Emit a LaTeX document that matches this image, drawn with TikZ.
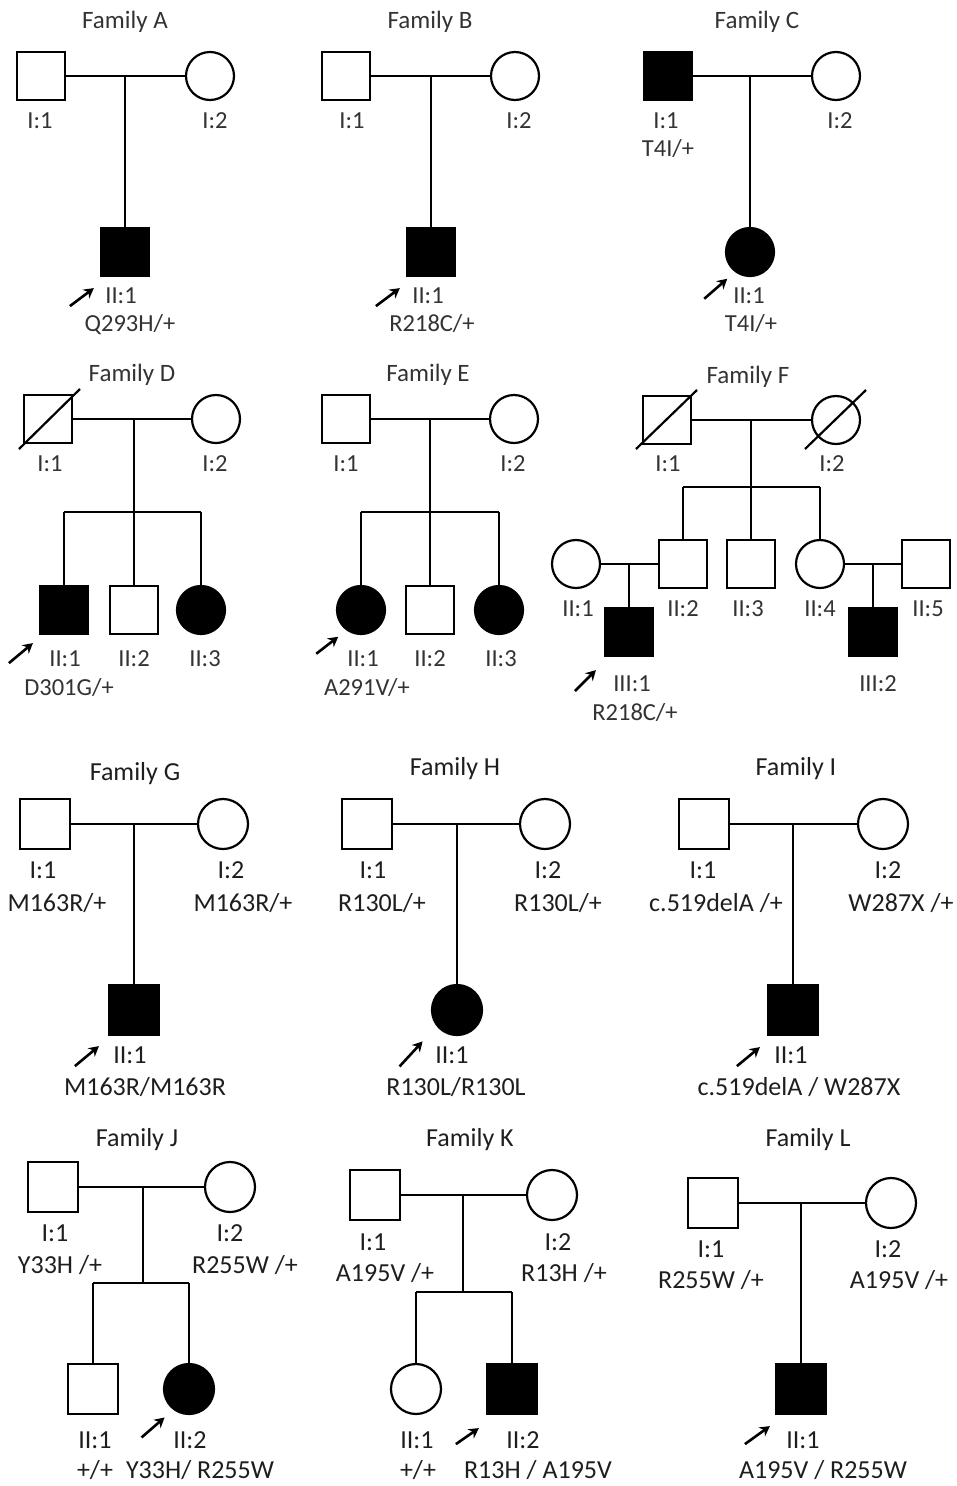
\documentclass[tikz,border=0pt]{standalone}
\usepackage{fontspec}
\setmainfont{Carlito}
\usetikzlibrary{arrows.meta,positioning}
\definecolor{ink}{HTML}{000000}
\definecolor{txtA}{HTML}{333333}
\definecolor{txtB}{HTML}{1E1E1E}
\tikzset{
  malebox/.style={
    rectangle, draw=ink, line width=2.2pt, fill=white,
    minimum size=#1, inner sep=0pt
  },
  malebox/.default=48pt,
  femalebox/.style={
    circle, draw=ink, line width=2.2pt, fill=white,
    minimum size=#1, inner sep=0pt
  },
  femalebox/.default=48pt,
  affected/.style={fill=ink},
  kinline/.style={line width=2.2pt, draw=ink},
  probarrow/.style={
    -{Stealth[length=10pt, width=11pt]}, line width=2.6pt, color=ink
  },
  labelnode/.style={
    font=\fontsize{24.5}{27}\selectfont, text=txtA,
    inner sep=0pt, text height=16pt, text depth=0pt
  },
  titlenode/.style={
    labelnode, font=\fontsize{25}{27}\selectfont
  },
  biglabel/.style={
    font=\fontsize{26}{29}\selectfont, text=txtB,
    inner sep=0pt, text height=17pt, text depth=0pt
  },
}

\begin{document}
\begin{tikzpicture}[x=1pt, y=-1pt]
  \useasboundingbox (0,0) rectangle (956,1486);
  % Family A
  \node[titlenode] (aT) at (125,20) {Family A};
  \node[malebox] (aI1) at (41,76) {};
  \node[femalebox] (aI2) at (210,76) {};
  \coordinate (am) at (125,76);
  \node[malebox, affected] (aII1) at (125,252) {};
  \draw[kinline] (aI1) -- (aI2);
  \draw[kinline] (am) -- (aII1);
  \node[labelnode] (aI1l) at (40,120) {I:1};
  \node[labelnode] (aI2l) at (215,120) {I:2};
  \node[labelnode] (aII1l) at (121,295) {II:1};
  \node[labelnode] (aII1g) at (130,323) {Q293H/+};
  \draw[probarrow] ([shift={(-30,29)}]aII1.south west) -- ++(24,-18);
  % Family B
  \node[titlenode] (bT) at (430,20) {Family B};
  \node[malebox] (bI1) at (346,76) {};
  \node[femalebox] (bI2) at (515,76) {};
  \coordinate (bm) at (431,76);
  \node[malebox, affected] (bII1) at (431,252) {};
  \draw[kinline] (bI1) -- (bI2);
  \draw[kinline] (bm) -- (bII1);
  \node[labelnode] (bI1l) at (352,120) {I:1};
  \node[labelnode] (bI2l) at (519,120) {I:2};
  \node[labelnode] (bII1l) at (428,295) {II:1};
  \node[labelnode] (bII1g) at (432,323) {R218C/+};
  \draw[probarrow] ([shift={(-30,29)}]bII1.south west) -- ++(24,-18);
  % Family C
  \node[titlenode] (cT) at (757,20) {Family C};
  \node[malebox, affected] (cI1) at (668,76) {};
  \node[femalebox] (cI2) at (836,76) {};
  \coordinate (cm) at (750,76);
  \node[femalebox, affected] (cII1) at (750,252) {};
  \draw[kinline] (cI1) -- (cI2);
  \draw[kinline] (cm) -- (cII1);
  \node[labelnode] (cI1l) at (666,120) {I:1};
  \node[labelnode] (cI1g) at (668,148) {T4I/+};
  \node[labelnode] (cI2l) at (840,120) {I:2};
  \node[labelnode] (cII1l) at (749,295) {II:1};
  \node[labelnode] (cII1g) at (751,323) {T4I/+};
  \draw[probarrow] ([shift={(-28,29)}]cII1.south west) -- ++(23,-20);
  % Family D
  \node[titlenode] (dT) at (132,373) {Family D};
  \node[malebox] (dI1) at (48,419) {};
  \node[femalebox] (dI2) at (216,419) {};
  \coordinate (dm) at (134,419);
  \coordinate (ds) at (134,512);
  \node[malebox, affected] (dII1) at (64,610) {};
  \node[malebox] (dII2) at (134,610) {};
  \node[femalebox, affected] (dII3) at (201,610) {};
  \draw[kinline] (dI1) -- (dI2);
  \draw[kinline] (dm) -- (ds);
  \draw[kinline] (dII1 |- ds) -- (dII3 |- ds);
  \draw[kinline] (dII1 |- ds) -- (dII1);
  \draw[kinline] (ds) -- (dII2);
  \draw[kinline] (dII3 |- ds) -- (dII3);
  \draw[kinline] ([shift={(-29,30)}]dI1.center) -- ([shift={(32,-30)}]dI1.center);
  \node[labelnode] (dI1l) at (50,463) {I:1};
  \node[labelnode] (dI2l) at (215,463) {I:2};
  \node[labelnode] (dII1l) at (65,658) {II:1};
  \node[labelnode] (dII2l) at (134,658) {II:2};
  \node[labelnode] (dII3l) at (205,658) {II:3};
  \node[labelnode] (dII1g) at (69,687) {D301G/+};
  \draw[probarrow] ([shift={(-30,28)}]dII1.south west) -- ++(24,-20);
  % Family E
  \node[titlenode] (eT) at (428,373) {Family E};
  \node[malebox] (eI1) at (346,419) {};
  \node[femalebox] (eI2) at (514,419) {};
  \coordinate (em) at (430,419);
  \coordinate (es) at (430,512);
  \node[femalebox, affected] (eII1) at (361,610) {};
  \node[malebox] (eII2) at (430,610) {};
  \node[femalebox, affected] (eII3) at (499,610) {};
  \draw[kinline] (eI1) -- (eI2);
  \draw[kinline] (em) -- (es);
  \draw[kinline] (eII1 |- es) -- (eII3 |- es);
  \draw[kinline] (eII1 |- es) -- (eII1);
  \draw[kinline] (es) -- (eII2);
  \draw[kinline] (eII3 |- es) -- (eII3);
  \node[labelnode] (eI1l) at (346,463) {I:1};
  \node[labelnode] (eI2l) at (513,463) {I:2};
  \node[labelnode] (eII1l) at (363,658) {II:1};
  \node[labelnode] (eII2l) at (430,658) {II:2};
  \node[labelnode] (eII3l) at (501,658) {II:3};
  \node[labelnode] (eII1g) at (367,687) {A291V/+};
  \draw[probarrow] ([shift={(-27,26)}]eII1.south west) -- ++(22,-17);
  % Family F
  \node[titlenode] (fT) at (748,375) {Family F};
  \node[malebox] (fI1) at (667,420) {};
  \node[femalebox] (fI2) at (836,420) {};
  \coordinate (fm) at (751,420);
  \coordinate (fs) at (751,487);
  \node[femalebox] (fII1) at (576,564) {};
  \node[malebox] (fII2) at (683,564) {};
  \node[malebox] (fII3) at (751,564) {};
  \node[femalebox] (fII4) at (820,564) {};
  \node[malebox] (fII5) at (926,564) {};
  \coordinate (fm2) at (629,564);
  \coordinate (fm3) at (873,564);
  \node[malebox, affected] (fIII1) at (629,632) {};
  \node[malebox, affected] (fIII2) at (873,632) {};
  \draw[kinline] (fI1) -- (fI2);
  \draw[kinline] (fm) -- (fs);
  \draw[kinline] (fII2 |- fs) -- (fII4 |- fs);
  \draw[kinline] (fII2 |- fs) -- (fII2);
  \draw[kinline] (fs) -- (fII3);
  \draw[kinline] (fII4 |- fs) -- (fII4);
  \draw[kinline] (fII1) -- (fII2);
  \draw[kinline] (fII4) -- (fII5);
  \draw[kinline] (fm2) -- (fIII1);
  \draw[kinline] (fm3) -- (fIII2);
  \draw[kinline] ([shift={(-31,29)}]fI1.center) -- ([shift={(30,-30)}]fI1.center);
  \draw[kinline] ([shift={(-31,29)}]fI2.center) -- ([shift={(30,-30)}]fI2.center);
  \node[labelnode] (fI1l) at (668,463) {I:1};
  \node[labelnode] (fI2l) at (832,463) {I:2};
  \node[labelnode] (fII1l) at (578,608) {II:1};
  \node[labelnode] (fII2l) at (683,608) {II:2};
  \node[labelnode] (fII3l) at (748,608) {II:3};
  \node[labelnode] (fII4l) at (820,608) {II:4};
  \node[labelnode] (fII5l) at (928,608) {II:5};
  \node[labelnode] (fIII1l) at (632,683) {III:1};
  \node[labelnode] (fIII2l) at (878,683) {III:2};
  \node[labelnode] (fIII1g) at (635,712) {R218C/+};
  \draw[probarrow] ([shift={(-29,34)}]fIII1.south west) -- ++(21,-21);
  % Family G
  \node[biglabel] (gT) at (135,772) {Family G};
  \node[malebox=50pt] (gI1) at (45,824) {};
  \node[femalebox=50pt] (gI2) at (223,824) {};
  \coordinate (gm) at (134,824);
  \node[malebox=50pt, affected] (gII1) at (134,1010) {};
  \draw[kinline] (gI1) -- (gI2);
  \draw[kinline] (gm) -- (gII1);
  \node[biglabel] (gI1l) at (43,870) {I:1};
  \node[biglabel] (gI1g) at (57,903) {M163R/+};
  \node[biglabel] (gI2l) at (231,870) {I:2};
  \node[biglabel] (gI2g) at (243,903) {M163R/+};
  \node[biglabel] (gII1l) at (130,1055) {II:1};
  \node[biglabel] (gII1g) at (145,1087) {M163R/M163R};
  \draw[probarrow] ([shift={(-33,30)}]gII1.south west) -- ++(24,-20);
  % Family H
  \node[biglabel] (hT) at (455,767) {Family H};
  \node[malebox=50pt] (hI1) at (367,824) {};
  \node[femalebox=50pt] (hI2) at (545,824) {};
  \coordinate (hm) at (457,824);
  \node[femalebox=50pt, affected] (hII1) at (457,1010) {};
  \draw[kinline] (hI1) -- (hI2);
  \draw[kinline] (hm) -- (hII1);
  \node[biglabel] (hI1l) at (373,870) {I:1};
  \node[biglabel] (hI1g) at (382,903) {R130L/+};
  \node[biglabel] (hI2l) at (548,870) {I:2};
  \node[biglabel] (hI2g) at (558,903) {R130L/+};
  \node[biglabel] (hII1l) at (452,1055) {II:1};
  \node[biglabel] (hII1g) at (456,1087) {R130L/R130L};
  \draw[probarrow] ([shift={(-39,38)}]hII1.south west) -- ++(23,-25);
  % Family I
  \node[biglabel] (iT) at (796,767) {Family I};
  \node[malebox=50pt] (iI1) at (704,824) {};
  \node[femalebox=50pt] (iI2) at (883,824) {};
  \coordinate (im) at (793,824);
  \node[malebox=50pt, affected] (iII1) at (793,1010) {};
  \draw[kinline] (iI1) -- (iI2);
  \draw[kinline] (im) -- (iII1);
  \node[biglabel] (iI1l) at (703,870) {I:1};
  \node[biglabel] (iI1g) at (716,903) {c.519delA /+};
  \node[biglabel] (iI2l) at (888,870) {I:2};
  \node[biglabel] (iI2g) at (901,903) {W287X /+};
  \node[biglabel] (iII1l) at (791,1055) {II:1};
  \node[biglabel] (iII1g) at (799,1087) {c.519delA / W287X};
  \draw[probarrow] ([shift={(-30,30)}]iII1.south west) -- ++(23,-19);
  % Family J
  \node[biglabel] (jT) at (137,1138) {Family J};
  \node[malebox=50pt] (jI1) at (53,1187) {};
  \node[femalebox=50pt] (jI2) at (230,1187) {};
  \coordinate (jm) at (143,1187);
  \coordinate (js) at (143,1283);
  \node[malebox=50pt] (jII1) at (93,1389) {};
  \node[femalebox=50pt, affected] (jII2) at (189,1389) {};
  \draw[kinline] (jI1) -- (jI2);
  \draw[kinline] (jm) -- (js);
  \draw[kinline] (jII1 |- js) -- (jII2 |- js);
  \draw[kinline] (jII1 |- js) -- (jII1);
  \draw[kinline] (jII2 |- js) -- (jII2);
  \node[biglabel] (jI1l) at (55,1233) {I:1};
  \node[biglabel] (jI1g) at (60,1265) {Y33H /+};
  \node[biglabel] (jI2l) at (230,1233) {I:2};
  \node[biglabel] (jI2g) at (245,1265) {R255W /+};
  \node[biglabel] (jII1l) at (95,1440) {II:1};
  \node[biglabel] (jII1g) at (95,1470) {+/+};
  \node[biglabel] (jII2l) at (190,1440) {II:2};
  \node[biglabel] (jII2g) at (200,1470) {Y33H/ R255W};
  \draw[probarrow] ([shift={(-29,30)}]jII2.south west) -- ++(23,-20);
  % Family K
  \node[biglabel] (kT) at (470,1138) {Family K};
  \node[malebox=50pt] (kI1) at (375,1195) {};
  \node[femalebox=50pt] (kI2) at (552,1195) {};
  \coordinate (km) at (463,1195);
  \coordinate (ks) at (463,1292);
  \node[femalebox=50pt] (kII1) at (416,1389) {};
  \node[malebox=50pt, affected] (kII2) at (512,1389) {};
  \draw[kinline] (kI1) -- (kI2);
  \draw[kinline] (km) -- (ks);
  \draw[kinline] (kII1 |- ks) -- (kII2 |- ks);
  \draw[kinline] (kII1 |- ks) -- (kII1);
  \draw[kinline] (kII2 |- ks) -- (kII2);
  \node[biglabel] (kI1l) at (373,1242) {I:1};
  \node[biglabel] (kI1g) at (385,1273) {A195V /+};
  \node[biglabel] (kI2l) at (558,1242) {I:2};
  \node[biglabel] (kI2g) at (564,1273) {R13H /+};
  \node[biglabel] (kII1l) at (417,1440) {II:1};
  \node[biglabel] (kII1g) at (418,1470) {+/+};
  \node[biglabel] (kII2l) at (523,1440) {II:2};
  \node[biglabel] (kII2g) at (538,1470) {R13H / A195V};
  \draw[probarrow] ([shift={(-30,29)}]kII2.south west) -- ++(23,-16);
  % Family L
  \node[biglabel] (lT) at (808,1138) {Family L};
  \node[malebox=50pt] (lI1) at (713,1203) {};
  \node[femalebox=50pt] (lI2) at (891,1203) {};
  \coordinate (lm) at (801,1203);
  \node[malebox=50pt, affected] (lII1) at (801,1389) {};
  \draw[kinline] (lI1) -- (lI2);
  \draw[kinline] (lm) -- (lII1);
  \node[biglabel] (lI1l) at (711,1249) {I:1};
  \node[biglabel] (lI1g) at (711,1280) {R255W /+};
  \node[biglabel] (lI2l) at (888,1249) {I:2};
  \node[biglabel] (lI2g) at (899,1280) {A195V /+};
  \node[biglabel] (lII1l) at (803,1440) {II:1};
  \node[biglabel] (lII1g) at (823,1470) {A195V / R255W};
  \draw[probarrow] ([shift={(-30,29)}]lII1.south west) -- ++(25,-18);
\end{tikzpicture}
\end{document}
